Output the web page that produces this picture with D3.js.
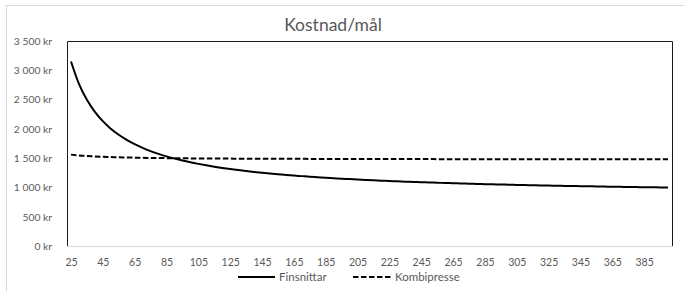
<!DOCTYPE html>
<html><head><meta charset="utf-8">
<script src="https://cdn.jsdelivr.net/npm/d3@7"></script>
<style>
html,body{margin:0;padding:0;background:#fff;}
svg{display:block;font-family:Lato,"Open Sans",sans-serif;}
</style></head>
<body><svg id="c" width="684" height="291"></svg>
<script>
const title = "Kostnad/mål";
const categories = [25,30,35,40,45,50,55,60,65,70,75,80,85,90,95,100,105,110,115,120,125,130,135,140,145,150,155,160,165,170,175,180,185,190,195,200,205,210,215,220,225,230,235,240,245,250,255,260,265,270,275,280,285,290,295,300,305,310,315,320,325,330,335,340,345,350,355,360,365,370,375,380,385,390,395,400];
const finsnittar = [3151,2768,2495,2290,2131,2003,1899,1812,1738,1675,1620,1573,1530,1493,1459,1429,1402,1377,1354,1333,1314,1297,1280,1265,1251,1238,1225,1214,1203,1193,1183,1174,1165,1157,1149,1142,1135,1128,1122,1116,1110,1105,1099,1094,1089,1085,1080,1076,1072,1068,1064,1060,1056,1053,1050,1046,1043,1040,1037,1034,1032,1029,1026,1024,1021,1019,1017,1014,1012,1010,1008,1006,1004,1002,1000,999];
const kombipresse = [1560,1546,1536,1528,1522,1518,1514,1511,1508,1505,1503,1502,1500,1499,1497,1496,1495,1494,1494,1493,1492,1491,1491,1490,1490,1489,1489,1488,1488,1488,1487,1487,1487,1486,1486,1486,1485,1485,1485,1485,1484,1484,1484,1484,1484,1484,1483,1483,1483,1483,1483,1483,1482,1482,1482,1482,1482,1482,1482,1482,1482,1481,1481,1481,1481,1481,1481,1481,1481,1481,1481,1481,1481,1480,1480,1480];
const yTicks = [0,500,1000,1500,2000,2500,3000,3500];
const xLabels = [25,45,65,85,105,125,145,165,185,205,225,245,265,285,305,325,345,365,385];
const seriesNames = ["Finsnittar","Kombipresse"];

const svg = d3.select("#c");
const L = 67, T = 41, R = 672, B = 246;
const fmt = d3.formatLocale({decimal:",",thousands:"\u00a0",grouping:[3],currency:[""," kr"]}).format(",");

svg.append("rect").attr("x",6.5).attr("y",5.5).attr("width",690).attr("height",300)
  .attr("fill","#fff").attr("stroke","#d9d9d9");

const x = d3.scalePoint().domain(categories).range([L,R]).padding(0.5);
const y = d3.scaleLinear().domain([0,3500]).range([B,T]);

svg.append("text").attr("x",333).attr("y",31).attr("text-anchor","middle")
  .attr("font-size",17.5).attr("fill","#595959").text(title);

// plot border
svg.append("path").attr("d",`M${L+0.5},${B}V${T+0.5}H${R+0.5}V${B}`)
  .attr("fill","none").attr("stroke","#1a1a1a").attr("stroke-width",1);
svg.append("line").attr("x1",L).attr("x2",R+1).attr("y1",B+0.5).attr("y2",B+0.5)
  .attr("stroke","#d9d9d9");

const ya = svg.append("g").attr("transform",`translate(${L-12},0)`)
  .call(d3.axisLeft(y).tickValues(yTicks).tickSize(0).tickFormat(d=>fmt(d)+" kr"));
ya.select(".domain").remove();
ya.selectAll("text").attr("font-size",10.3).attr("fill","#595959").attr("font-family","Lato,sans-serif").attr("dx",0);

const xa = svg.append("g").attr("transform",`translate(0,${B+10})`)
  .call(d3.axisBottom(x).tickValues(xLabels).tickSize(0));
xa.select(".domain").remove();
xa.selectAll("text").attr("font-size",10.5).attr("fill","#595959").attr("font-family","Lato,sans-serif");

const line = d3.line().x((d,i)=>x(categories[i])).y(d=>y(d)).curve(d3.curveMonotoneX);
svg.append("path").datum(kombipresse).attr("d",line).attr("fill","none")
  .attr("stroke","#000").attr("stroke-width",2).attr("stroke-dasharray","5.5,2.5");
svg.append("path").datum(finsnittar).attr("d",line).attr("fill","none")
  .attr("stroke","#000").attr("stroke-width",2);

// legend
const lg = svg.append("g").attr("font-size",11.5).attr("fill","#595959");
lg.append("line").attr("x1",238).attr("x2",275).attr("y1",277).attr("y2",277)
  .attr("stroke","#000").attr("stroke-width",2);
lg.append("text").attr("x",279).attr("y",281).text(seriesNames[0]);
lg.append("line").attr("x1",353).attr("x2",392).attr("y1",277).attr("y2",277)
  .attr("stroke","#000").attr("stroke-width",2).attr("stroke-dasharray","5.5,2.5");
lg.append("text").attr("x",395).attr("y",281).text(seriesNames[1]);
</script></body></html>
